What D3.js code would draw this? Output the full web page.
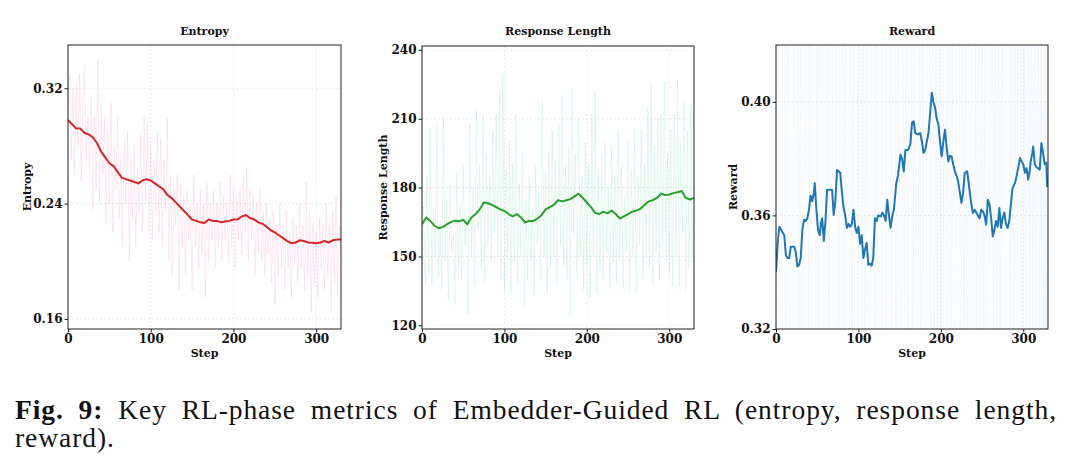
<!DOCTYPE html>
<html>
<head>
<meta charset="utf-8">
<script src="https://cdn.jsdelivr.net/npm/d3@7"></script>
<style>
  body { margin: 0; background: #fff; }
  svg { display: block; }
  .tick text { font-family: "DejaVu Serif", serif; font-weight: bold; font-size: 12px; fill: #111; }
  .tick line { stroke: #222; }
  .panel-title, .axis-label { font-family: "DejaVu Serif", serif; font-weight: bold; font-size: 11px; fill: #111; }
  .caption { font-family: "Liberation Serif", serif; font-size: 27.5px; fill: #111; }
</style>
</head>
<body>
<div id="wrapper"></div>
<script>
// ---- data ----

// Entropy: raw every 2 steps, smoothed every 5 steps
const entropyRaw = [
  0.300, 0.330, 0.270, 0.320, 0.260, 0.325, 0.280, 0.330, 0.255, 0.310, 0.335, 0.270, 0.300, 0.260, 0.315, 0.235,
  0.300, 0.250, 0.340, 0.240, 0.310, 0.260, 0.300, 0.225, 0.290, 0.240, 0.310, 0.220, 0.280, 0.250, 0.300, 0.230,
  0.270, 0.210, 0.285, 0.240, 0.290, 0.200, 0.270, 0.230, 0.280, 0.210, 0.265, 0.235, 0.290, 0.220, 0.300, 0.240,
  0.295, 0.220, 0.280, 0.215, 0.270, 0.235, 0.290, 0.220, 0.285, 0.210, 0.270, 0.235, 0.300, 0.200, 0.260, 0.190,
  0.250, 0.225, 0.260, 0.180, 0.255, 0.210, 0.245, 0.190, 0.250, 0.215, 0.240, 0.180, 0.260, 0.210, 0.240, 0.195,
  0.250, 0.205, 0.240, 0.175, 0.255, 0.200, 0.240, 0.215, 0.250, 0.195, 0.240, 0.210, 0.255, 0.200, 0.245, 0.215,
  0.240, 0.200, 0.260, 0.210, 0.250, 0.195, 0.245, 0.215, 0.250, 0.205, 0.260, 0.220, 0.265, 0.200, 0.250, 0.215,
  0.245, 0.190, 0.240, 0.205, 0.250, 0.200, 0.235, 0.190, 0.240, 0.205, 0.230, 0.185, 0.235, 0.170, 0.225, 0.190,
  0.240, 0.195, 0.225, 0.180, 0.235, 0.195, 0.220, 0.175, 0.230, 0.200, 0.225, 0.185, 0.240, 0.195, 0.225, 0.180,
  0.255, 0.190, 0.235, 0.165, 0.225, 0.185, 0.220, 0.175, 0.230, 0.195, 0.225, 0.180, 0.240, 0.190, 0.225, 0.165,
  0.235, 0.185, 0.245, 0.175, 0.225, 0.205
];
const entropySmooth = [
  0.298, 0.295, 0.292, 0.292, 0.289, 0.288, 0.286, 0.282, 0.276, 0.272, 0.268, 0.266, 0.262, 0.258, 0.257, 0.256,
  0.255, 0.254, 0.256, 0.257, 0.256, 0.254, 0.252, 0.250, 0.246, 0.244, 0.241, 0.238, 0.235, 0.232, 0.229, 0.228,
  0.227, 0.2265, 0.229, 0.228, 0.228, 0.227, 0.2275, 0.228, 0.229, 0.229, 0.231, 0.232, 0.230, 0.229, 0.227, 0.226,
  0.224, 0.2215, 0.220, 0.218, 0.216, 0.214, 0.2125, 0.213, 0.2145, 0.214, 0.213, 0.2128, 0.2125, 0.213, 0.214, 0.213,
  0.2145, 0.215, 0.215
];

// Response length: raw every 2 steps, smoothed every 5 steps
const lengthRaw = [
  140, 172, 136, 185, 142, 206, 138, 170, 150, 207, 141, 165, 135, 211, 148, 175,
  131, 182, 152, 160, 129, 186, 146, 172, 140, 190, 155, 168, 125, 208, 150, 180,
  137, 214, 162, 190, 145, 212, 138, 195, 155, 186, 148, 205, 160, 212, 150, 222,
  140, 230, 135, 188, 150, 200, 133, 190, 148, 212, 138, 182, 150, 195, 128, 175,
  140, 185, 148, 170, 133, 190, 155, 178, 140, 218, 150, 186, 134, 196, 145, 205,
  150, 192, 138, 208, 155, 220, 146, 190, 140, 198, 124, 223, 160, 195, 140, 210,
  150, 185, 135, 200, 146, 190, 132, 212, 150, 222, 134, 186, 145, 195, 140, 200,
  152, 180, 136, 198, 147, 185, 139, 205, 148, 190, 136, 176, 152, 200, 135, 188,
  150, 206, 134, 185, 155, 205, 140, 190, 150, 215, 145, 225, 138, 198, 152, 210,
  140, 212, 155, 226, 148, 195, 142, 205, 137, 212, 150, 227, 136, 200, 160, 217,
  135, 205, 145, 216, 150, 190
];
const lengthSmooth = [
  164.0, 167.0, 165.5, 163.5, 162.3, 162.8, 164.0, 165.0, 165.6, 165.3, 166.0, 164.0, 167.0, 168.5, 170.5, 173.5,
  173.2, 172.5, 171.5, 170.5, 169.8, 168.5, 167.5, 168.5, 167.0, 164.8, 165.5, 165.5, 166.5, 168.0, 170.5, 171.5,
  172.5, 174.5, 174.0, 174.5, 175.0, 176.2, 177.4, 175.5, 173.5, 171.5, 169.0, 168.5, 169.5, 168.8, 170.0, 168.5,
  166.5, 167.5, 168.5, 169.5, 170.0, 170.8, 172.5, 174.0, 174.5, 175.5, 177.4, 176.8, 177.0, 177.6, 178.0, 178.5,
  175.5, 174.8, 175.5
];

// Reward: raw every 2 steps (mostly outside the 0.32-0.42 window), smoothed at listed steps
const rewardRaw = [
  0.26, 0.48, 0.22, 0.24, 0.51, 0.46, 0.24, 0.55, 0.27, 0.29, 0.21, 0.50, 0.45, 0.47, 0.23, 0.53,
  0.26, 0.25, 0.49, 0.52, 0.28, 0.47, 0.25, 0.24, 0.27, 0.46, 0.23, 0.50, 0.48, 0.22, 0.26, 0.54,
  0.26, 0.47, 0.49, 0.24, 0.28, 0.51, 0.21, 0.53, 0.50, 0.27, 0.46, 0.25, 0.23, 0.55, 0.28, 0.47,
  0.22, 0.25, 0.52, 0.48, 0.29, 0.46, 0.24, 0.51, 0.27, 0.26, 0.49, 0.54, 0.26, 0.47, 0.23, 0.22,
  0.28, 0.55, 0.48, 0.25, 0.22, 0.52, 0.27, 0.46, 0.49, 0.24, 0.53, 0.29, 0.26, 0.56, 0.23, 0.50,
  0.27, 0.47, 0.48, 0.22, 0.54, 0.28, 0.25, 0.51, 0.21, 0.46, 0.26, 0.24, 0.53, 0.49, 0.28, 0.52,
  0.23, 0.47, 0.27, 0.55, 0.25, 0.22, 0.50, 0.48, 0.29, 0.53, 0.26, 0.46, 0.24, 0.27, 0.51, 0.49,
  0.21, 0.54, 0.27, 0.47, 0.25, 0.52, 0.50, 0.23, 0.28, 0.46, 0.26, 0.55, 0.22, 0.48, 0.27, 0.51,
  0.24, 0.26, 0.49, 0.53, 0.25, 0.47, 0.23, 0.52, 0.27, 0.50, 0.22, 0.24, 0.46, 0.54, 0.28, 0.48,
  0.24, 0.51, 0.21, 0.49, 0.55, 0.27, 0.25, 0.47, 0.23, 0.52, 0.28, 0.50, 0.26, 0.46, 0.22, 0.53,
  0.27, 0.48, 0.24, 0.51, 0.29, 0.47
];
const rewardSteps = [
  0, 2, 4, 6, 8, 10, 12, 14, 16, 18, 20, 22, 24, 26, 28, 30, 32, 34, 36, 38, 40, 42, 44, 46, 47, 49, 51, 53, 55, 56, 58, 60,
  62, 65, 68, 70, 72, 74, 76, 78, 80, 82, 84, 86, 88, 90, 92, 94, 96, 98, 100, 102, 104, 106, 108, 110, 112, 114, 116, 118,
  120, 122, 124, 127, 129, 131, 133, 135, 137, 139, 141, 143, 146, 148, 151, 153, 155, 157, 160, 163, 165, 167, 169, 172,
  175, 177, 179, 181, 183, 185, 187, 189, 191, 193, 195, 197, 199, 201, 203, 205, 207, 209, 211, 213, 215, 217, 219, 221,
  223, 225, 227, 229, 232, 235, 237, 239, 241, 243, 245, 247, 249, 251, 253, 255, 257, 259, 261, 263, 265, 267, 269, 271,
  273, 275, 277, 279, 281, 283, 285, 287, 290, 292, 294, 296, 298, 300, 302, 304, 306, 308, 309, 311, 312, 314, 316, 318,
  320, 322, 324, 326, 328, 329
];
const rewardSmooth = [
  0.340, 0.350, 0.356, 0.355, 0.354, 0.353, 0.346, 0.345, 0.345, 0.349, 0.349, 0.349, 0.347, 0.342, 0.3425, 0.345,
  0.355, 0.3585, 0.358, 0.359, 0.362, 0.367, 0.365, 0.368, 0.3714, 0.362, 0.355, 0.353, 0.358, 0.359, 0.351, 0.358,
  0.369, 0.369, 0.369, 0.3602, 0.365, 0.376, 0.3755, 0.375, 0.368, 0.3626, 0.360, 0.3556, 0.357, 0.356, 0.357, 0.362,
  0.356, 0.3538, 0.356, 0.350, 0.353, 0.345, 0.348, 0.3503, 0.3426, 0.343, 0.3423, 0.345,
  0.359, 0.358, 0.360, 0.3596, 0.361, 0.360, 0.358, 0.3655, 0.360, 0.3556, 0.3596, 0.362, 0.3714, 0.374, 0.3814, 0.380,
  0.3755, 0.383, 0.383, 0.385, 0.3926, 0.3932, 0.389, 0.3885,
  0.389, 0.386, 0.382, 0.383, 0.386, 0.389, 0.396, 0.4032, 0.400, 0.3979, 0.394, 0.392, 0.386, 0.3808, 0.386, 0.3902,
  0.384, 0.379, 0.381, 0.3808, 0.378, 0.3755, 0.374, 0.372,
  0.368, 0.3644, 0.368, 0.3749, 0.3755, 0.3685, 0.364, 0.3608, 0.362, 0.361, 0.360, 0.359, 0.362, 0.3615, 0.360, 0.3567,
  0.3655, 0.364, 0.359, 0.3526, 0.355, 0.358, 0.356, 0.3626,
  0.3556, 0.359, 0.361, 0.357, 0.3556, 0.358, 0.364, 0.3697, 0.3714, 0.374, 0.377, 0.3802, 0.379, 0.378, 0.375, 0.3766,
  0.3726, 0.376, 0.379, 0.382, 0.3843, 0.378, 0.377, 0.3766,
  0.3761, 0.3855, 0.382, 0.378, 0.3785, 0.370
];

// axis ticks
const xTicks = [0, 100, 200, 300];
const entropyTicks = [0.16, 0.24, 0.32];
const lengthTicks = [120, 150, 180, 210, 240];
const rewardTicks = [0.32, 0.36, 0.40];

const captionBold = "Fig. 9:";
const captionLine1 = " Key RL-phase metrics of Embedder-Guided RL (entropy, response length,";
const captionLine2 = "reward).";

function drawChart() {

  const width = 1072;
  const height = 472;

  const wrapper = d3.select("#wrapper")
    .append("svg")
      .attr("width", width)
      .attr("height", height);

  const panels = [
    {
      id: "entropy", title: "Entropy", ylabel: "Entropy",
      left: 68, right: 341, top: 45, bottom: 329, ylabelX: 27,
      yDomain: [0.153, 0.350], yTicks: entropyTicks, fmt: d3.format(".2f"),
      raw: entropyRaw.map((v, i) => [i * 2, v]),
      smooth: entropySmooth.map((v, i) => [i * 5, v]),
      rawColor: "#f7a1c8", rawOpacity: 0.25, color: "#d62728",
    },
    {
      id: "length", title: "Response Length", ylabel: "Response Length",
      left: 422, right: 694, top: 46, bottom: 329, ylabelX: 383,
      yDomain: [118.4, 241.7], yTicks: lengthTicks, fmt: d3.format("d"),
      raw: lengthRaw.map((v, i) => [i * 2, v]),
      smooth: lengthSmooth.map((v, i) => [i * 5, v]),
      rawColor: "#86d9b4", rawOpacity: 0.22, color: "#2ca02c",
    },
    {
      id: "reward", title: "Reward", ylabel: "Reward",
      left: 776, right: 1048, top: 45, bottom: 329, ylabelX: 733,
      yDomain: [0.32, 0.42], yTicks: rewardTicks, fmt: d3.format(".2f"),
      raw: rewardRaw.map((v, i) => [i * 2, v]),
      smooth: rewardSmooth.map((v, i) => [rewardSteps[i], v]),
      rawColor: "#9cc4ec", rawOpacity: 0.14, color: "#1f77b4",
    },
  ];

  panels.forEach(p => {
    const w = p.right - p.left;
    const h = p.bottom - p.top;

    const bounds = wrapper.append("g")
      .attr("transform", `translate(${p.left}, ${p.top})`);

    const xScale = d3.scaleLinear()
      .domain([0, 330])
      .range([0, w]);

    const yScale = d3.scaleLinear()
      .domain(p.yDomain)
      .range([h, 0]);

    wrapper.append("clipPath")
        .attr("id", `clip-${p.id}`)
      .append("rect")
        .attr("width", w)
        .attr("height", h);

    // grid
    const grid = bounds.append("g")
        .attr("stroke", "#d4d4d4")
        .attr("stroke-width", 0.5)
        .attr("stroke-dasharray", "2,2");
    grid.selectAll(".gx")
      .data(xTicks)
      .join("line")
        .attr("x1", d => xScale(d))
        .attr("x2", d => xScale(d))
        .attr("y1", 0)
        .attr("y2", h);
    grid.selectAll(".gy")
      .data(p.yTicks)
      .join("line")
        .attr("x1", 0)
        .attr("x2", w)
        .attr("y1", d => yScale(d))
        .attr("y2", d => yScale(d));

    const lineGenerator = d3.line()
      .x(d => xScale(d[0]))
      .y(d => yScale(d[1]));

    const plot = bounds.append("g")
        .attr("clip-path", `url(#clip-${p.id})`);

    plot.append("path")
        .attr("d", lineGenerator(p.raw))
        .attr("fill", "none")
        .attr("stroke", p.rawColor)
        .attr("stroke-opacity", p.rawOpacity)
        .attr("stroke-width", 0.9);

    plot.append("path")
        .attr("d", lineGenerator(p.smooth))
        .attr("fill", "none")
        .attr("stroke", p.color)
        .attr("stroke-width", 2)
        .attr("stroke-linejoin", "round");

    // axes
    const xAxis = bounds.append("g")
        .attr("transform", `translate(0, ${h})`)
        .call(d3.axisBottom(xScale).tickValues(xTicks).tickSize(3.5).tickPadding(2));
    xAxis.select(".domain").remove();

    const yAxis = bounds.append("g")
        .call(d3.axisLeft(yScale).tickValues(p.yTicks).tickFormat(p.fmt).tickSize(3.5).tickPadding(2));
    yAxis.select(".domain").remove();

    bounds.append("rect")
        .attr("width", w)
        .attr("height", h)
        .attr("fill", "none")
        .attr("stroke", "#222")
        .attr("stroke-width", 1);

    bounds.append("text")
        .attr("class", "panel-title")
        .attr("x", w / 2)
        .attr("y", 35 - p.top)
        .attr("text-anchor", "middle")
        .text(p.title);

    bounds.append("text")
        .attr("class", "axis-label")
        .attr("x", w / 2)
        .attr("y", 357 - p.top)
        .attr("text-anchor", "middle")
        .text("Step");

    wrapper.append("text")
        .attr("class", "axis-label")
        .attr("transform", `translate(${p.ylabelX}, ${p.top + h / 2}) rotate(-90)`)
        .attr("text-anchor", "middle")
        .attr("dy", "0.35em")
        .text(p.ylabel);
  });

  // caption: widen the letters a little, then justify the first line with word spacing
  const line1 = wrapper.append("text")
      .attr("class", "caption")
      .attr("x", 15)
      .attr("y", 419);
  line1.append("tspan")
      .attr("font-weight", "bold")
      .text(captionBold);
  line1.append("tspan")
      .text(captionLine1);

  const fullText = captionBold + captionLine1;
  const natural = line1.node().getComputedTextLength();
  const spaces = fullText.split(" ").length - 1;
  const wordGap = 7;
  const letterGap = Math.max(0, (1057 - 15 - natural - wordGap * spaces) / fullText.length);
  const wordFill = (1057 - 15 - natural - letterGap * fullText.length) / spaces;
  line1.attr("letter-spacing", letterGap)
      .attr("word-spacing", wordFill);

  wrapper.append("text")
      .attr("class", "caption")
      .attr("x", 15)
      .attr("y", 447)
      .attr("letter-spacing", letterGap)
      .text(captionLine2);
}
drawChart()
</script>
</body>
</html>
